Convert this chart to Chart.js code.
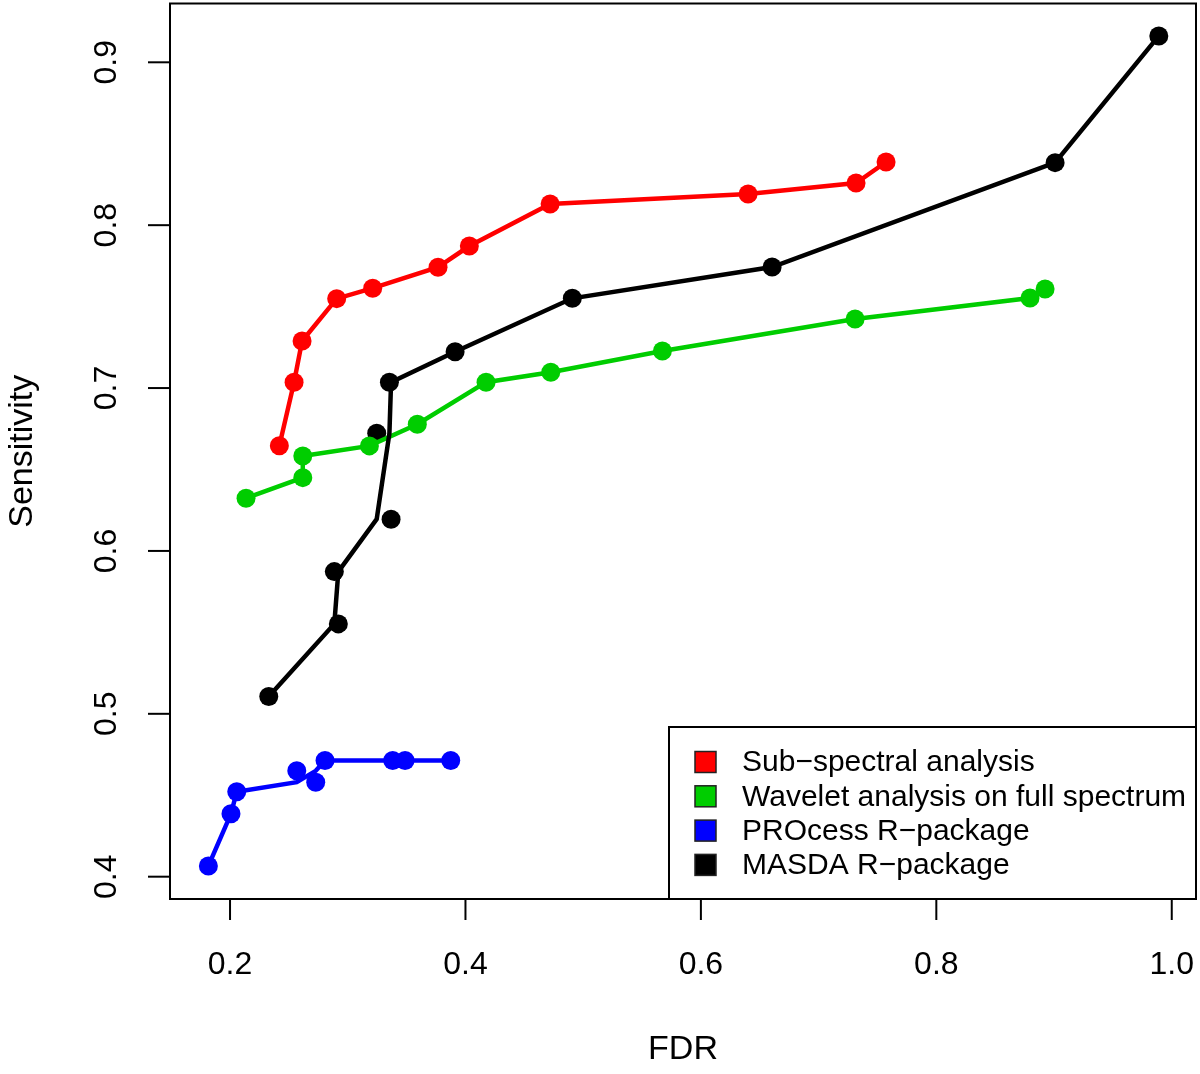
<!DOCTYPE html>
<html>
<head>
<meta charset="utf-8">
<script src="https://cdn.jsdelivr.net/npm/chart.js@4.4.1/dist/chart.umd.min.js"></script>
<style>
  html, body { margin: 0; padding: 0; background: #fff; }
  canvas { display: block; }
</style>
</head>
<body>
<canvas id="rocChart" width="1200" height="1074"></canvas>
<script>
// ---- data ----
const seriesNames = ["Sub\u2212spectral analysis", "Wavelet analysis on full spectrum", "PROcess R\u2212package", "MASDA R\u2212package"];
const seriesColors = ["#ff0000", "#00cd00", "#0000ff", "#000000"];

const subX = [0.2419, 0.2544, 0.2612, 0.2906, 0.3212, 0.3767, 0.4033, 0.4719, 0.6401, 0.7318, 0.7573];
const subY = [0.6646, 0.7036, 0.7289, 0.7549, 0.7613, 0.7742, 0.7872, 0.8130, 0.8191, 0.8259, 0.8388];

const waveX = [0.2136, 0.2618, 0.2618, 0.3184, 0.3591, 0.4175, 0.4725, 0.5673, 0.7310, 0.8796, 0.8924];
const waveY = [0.6324, 0.6450, 0.6583, 0.6645, 0.6778, 0.7036, 0.7097, 0.7228, 0.7424, 0.7553, 0.7608];

const procX = [0.1816, 0.2008, 0.2057, 0.2567, 0.2728, 0.2807, 0.3382, 0.3487, 0.3875];
const procY = [0.4066, 0.4386, 0.4522, 0.4650, 0.4580, 0.4713, 0.4713, 0.4713, 0.4713];
// the connecting line does not pass through every marker
const procLineX = [0.1816, 0.2008, 0.2057, 0.2567, 0.2728, 0.2807, 0.3382, 0.3487, 0.3875];
const procLineY = [0.4066, 0.4386, 0.4522, 0.4580, 0.4650, 0.4713, 0.4713, 0.4713, 0.4713];

const masdaX = [0.2329, 0.2920, 0.2886, 0.3246, 0.3368, 0.3354, 0.3912, 0.4908, 0.6605, 0.9009, 0.9890];
const masdaY = [0.5106, 0.5552, 0.5873, 0.6722, 0.6195, 0.7036, 0.7223, 0.7551, 0.7743, 0.8384, 0.9162];
const masdaLineX = [0.2329, 0.2886, 0.2920, 0.3246, 0.3354, 0.3368, 0.3912, 0.4908, 0.6605, 0.9009, 0.9890];
const masdaLineY = [0.5106, 0.5552, 0.5873, 0.6195, 0.6722, 0.7036, 0.7223, 0.7551, 0.7743, 0.8384, 0.9162];

const xTicks = [0.2, 0.4, 0.6, 0.8, 1.0];
const xTickLabels = ["0.2", "0.4", "0.6", "0.8", "1.0"];
const yTicks = [0.4, 0.5, 0.6, 0.7, 0.8, 0.9];
const yTickLabels = ["0.4", "0.5", "0.6", "0.7", "0.8", "0.9"];

const FONT = '"Liberation Sans", Arial, Helvetica, sans-serif';

function pts(xs, ys) {
  return xs.map((x, i) => ({ x: x, y: ys[i] }));
}

// R-style box, axes, titles and legend
const rFrame = {
  id: 'rFrame',
  afterDatasetsDraw(chart) {
    const { ctx, chartArea: a, scales } = chart;
    const sx = scales.x, sy = scales.y;
    ctx.save();
    ctx.strokeStyle = '#000';
    ctx.fillStyle = '#000';
    ctx.lineWidth = 2;

    // plot box
    ctx.strokeRect(a.left, a.top, a.right - a.left, a.bottom - a.top);

    // x axis ticks + labels
    ctx.font = '32px ' + FONT;
    ctx.textAlign = 'center';
    ctx.textBaseline = 'middle';
    xTicks.forEach((v, i) => {
      const px = sx.getPixelForValue(v);
      ctx.beginPath();
      ctx.moveTo(px, a.bottom);
      ctx.lineTo(px, a.bottom + 21);
      ctx.stroke();
      ctx.fillText(xTickLabels[i], px, a.bottom + 66);
    });

    // y axis ticks + rotated labels
    yTicks.forEach((v, i) => {
      const py = sy.getPixelForValue(v);
      ctx.beginPath();
      ctx.moveTo(a.left, py);
      ctx.lineTo(a.left - 22, py);
      ctx.stroke();
      ctx.save();
      ctx.translate(a.left - 63, py);
      ctx.rotate(-Math.PI / 2);
      ctx.fillText(yTickLabels[i], 0, 0);
      ctx.restore();
    });

    // axis titles
    ctx.font = '34px ' + FONT;
    ctx.fillText('FDR', (a.left + a.right) / 2, 1050);
    ctx.save();
    ctx.translate(23, (a.top + a.bottom) / 2);
    ctx.rotate(-Math.PI / 2);
    ctx.fillText('Sensitivity', 0, 0);
    ctx.restore();

    // legend
    const lx = 669, ly = 727;
    ctx.fillStyle = '#fff';
    ctx.fillRect(lx, ly, a.right - lx, a.bottom - ly);
    ctx.strokeRect(lx, ly, a.right - lx, a.bottom - ly);
    ctx.font = '30px ' + FONT;
    ctx.textAlign = 'left';
    ctx.lineWidth = 1.5;
    seriesNames.forEach((name, i) => {
      const cy = 762 + i * 34.3;
      ctx.fillStyle = seriesColors[i];
      ctx.fillRect(695, cy - 10.5, 21, 21);
      ctx.strokeStyle = '#222';
      ctx.strokeRect(695, cy - 10.5, 21, 21);
      ctx.fillStyle = '#000';
      ctx.fillText(name, 742, cy + 1);
    });
    ctx.restore();
  }
};

new Chart(document.getElementById('rocChart'), {
  type: 'scatter',
  data: {
    datasets: [
      {
        label: 'MASDA line',
        data: pts(masdaLineX, masdaLineY),
        showLine: true,
        borderColor: seriesColors[3],
        borderWidth: 4.5,
        pointRadius: 0,
        order: 0
      },
      {
        label: seriesNames[1],
        data: pts(waveX, waveY),
        showLine: true,
        borderColor: seriesColors[1],
        backgroundColor: seriesColors[1],
        borderWidth: 4.5,
        pointRadius: 9.5,
        pointBorderWidth: 0,
        order: 1
      },
      {
        label: seriesNames[3],
        data: pts(masdaX, masdaY),
        showLine: false,
        backgroundColor: seriesColors[3],
        pointRadius: 9.5,
        pointBorderWidth: 0,
        order: 2
      },
      {
        label: seriesNames[0],
        data: pts(subX, subY),
        showLine: true,
        borderColor: seriesColors[0],
        backgroundColor: seriesColors[0],
        borderWidth: 4.5,
        pointRadius: 9.5,
        pointBorderWidth: 0,
        order: 3
      },
      {
        label: 'PROcess line',
        data: pts(procLineX, procLineY),
        showLine: true,
        borderColor: seriesColors[2],
        borderWidth: 4.5,
        pointRadius: 0,
        order: 4
      },
      {
        label: seriesNames[2],
        data: pts(procX, procY),
        showLine: false,
        backgroundColor: seriesColors[2],
        pointRadius: 9.5,
        pointBorderWidth: 0,
        order: 5
      }
    ]
  },
  options: {
    responsive: false,
    animation: false,
    devicePixelRatio: 1,
    layout: { autoPadding: false, padding: { left: 170, right: 4, top: 3.5, bottom: 175 } },
    plugins: { legend: { display: false }, tooltip: { enabled: false } },
    scales: {
      x: { type: 'linear', min: 0.149, max: 1.0206, display: false },
      y: { type: 'linear', min: 0.3863, max: 0.9361, display: false }
    }
  },
  plugins: [rFrame]
});
</script>
</body>
</html>
